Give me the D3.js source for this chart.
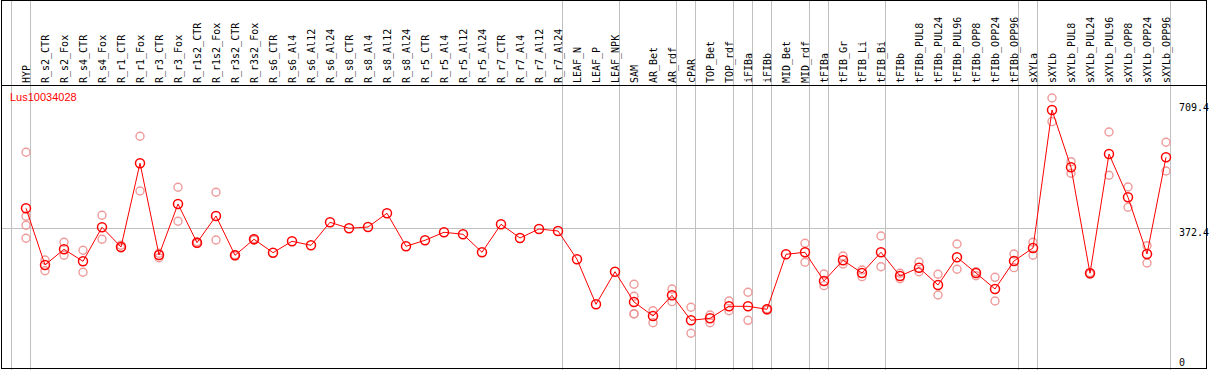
<!DOCTYPE html>
<meta charset="utf-8">
<style>
body { margin: 0; background: #fff; }
svg { display: block; background: #fff; }
.lbl { font-family: "DejaVu Sans Mono", monospace; font-size: 10px; fill: #000; }
.sep { stroke: #c0c0c0; stroke-width: 1; shape-rendering: crispEdges; }
.frame { fill: none; stroke: #000; stroke-width: 1; shape-rendering: crispEdges; }
.rep { fill: none; stroke: #ef9a9a; stroke-width: 1.4; }
.mean { fill: none; stroke: #ff0000; stroke-width: 1.5; }
.trend { fill: none; stroke: #ff0000; stroke-width: 1; }
.title { font-family: "Liberation Sans", Arial, sans-serif; font-size: 11px; fill: #ff0000; }
</style>
<body>
<svg id="chart"></svg>
<script src="https://cdnjs.cloudflare.com/ajax/libs/d3/7.8.5/d3.min.js"></script>
<script>

var geneId = "Lus10034028";

var samples = ["HYP","R_s2_CTR","R_s2_Fox","R_s4_CTR","R_s4_Fox","R_r1_CTR","R_r1_Fox","R_r3_CTR","R_r3_Fox",
  "R_r1s2_CTR","R_r1s2_Fox","R_r3s2_CTR","R_r3s2_Fox","R_s6_CTR","R_s6_Al4","R_s6_Al12","R_s6_Al24",
  "R_s8_CTR","R_s8_Al4","R_s8_Al12","R_s8_Al24","R_r5_CTR","R_r5_Al4","R_r5_Al12","R_r5_Al24",
  "R_r7_CTR","R_r7_Al4","R_r7_Al12","R_r7_Al24","LEAF_N","LEAF_P","LEAF_NPK","SAM","AR_Bet","AR_rdf",
  "cPAR","TOP_Bet","TOP_rdf","iFIBa","iFIBb","MID_Bet","MID_rdf","tFIBa","tFIB_Gr","tFIB_Li","tFIB_Bi",
  "tFIBb","tFIBb_PUL8","tFIBb_PUL24","tFIBb_PUL96","tFIBb_OPP8","tFIBb_OPP24","tFIBb_OPP96",
  "sXYLa","sXYLb","sXYLb_PUL8","sXYLb_PUL24","sXYLb_PUL96","sXYLb_OPP8","sXYLb_OPP24","sXYLb_OPP96"];

// mean expression per sample
var means = [428.7,266.8,311.6,277.3,374.5,318.2,557.3,295.3,441.0,
  330.5,406.7,294.5,340.2,301.9,334.5,323.0,388.7,
  371.6,375.3,414.4,320.2,337.3,360.2,354.5,303.1,
  383.0,343.9,369.6,363.9,283.1,154.5,247.6,161.1,121.1,180.2,
  108.8,114.5,148.8,148.8,140.2,297.3,303.1,221.1,280.2,243.9,303.1,
  235.4,259.1,209.7,288.8,243.9,198.2,278.2,
  315.3,709.4,545.8,243.1,583.8,460.1,298.2,574.4];

// individual replicates (empty = single measurement)
var reps = [[588.7,405.9,380.2,343.0],[281.1,250.5],[331.6,294.5],[308.8,245.9],[408.7,340.2],[323.0,315.3],[634.4,478.1],[300.2,287.6],[488.7,391.6],
  [328,333],[474.4,338.2],[293,296],[338,342],[],[],[],[],
  [],[],[],[],[],[],[],[],
  [],[],[],[],[],[],[],[211.7,177.4,127.7,126.8],[136.2,102.0],[198.2,162.0],
  [146.0,71.7],[124.0,102.0],[164.0,136.2],[188.8,108.8],[141.9,138.2],[],[328.8,274.5],[241.1,207.7],[292.5,269.6],[252.5,233.4],[349.6,261.9],
  [243.1,227.6],[275.3,247.6],[240.2,181.1],[326.8,254.5],[247.6,236.2],[231.6,164.0],[298.2,259.1],
  [331.6,294.5],[743.8,676.1],[561.8,528.7],[241,245],[646.7,523.0],[489.6,431.6],[321.9,272.5],[617.3,535.3]];

// number of samples in each tissue group
var groupSizes = [1,28,3,3,1,2,1,1,2,1,3,7,1,7];

var yTicks = [0, 372.4, 709.4];

var width = 1209, height = 370;
var headerBottom = 85, plotRight = 1170;

var svg = d3.select("#chart")
  .attr("width", width)
  .attr("height", height);

var x = d3.scalePoint()
  .domain(samples)
  .range([26, 1166]);

var y = d3.scaleLinear()
  .domain([0, 709.4])
  .range([358.4, 110]);

// group separators
var ends = [-1];
groupSizes.reduce(function(acc, n) { ends.push(acc + n - 1); return acc + n; }, 0);

svg.selectAll(".sep.v")
  .data(ends)
  .enter().append("line")
    .attr("class", "sep v")
    .attr("x1", function(d) { return Math.round(x(samples[0]) + x.step() * d + 4) + 0.5; })
    .attr("x2", function(d) { return Math.round(x(samples[0]) + x.step() * d + 4) + 0.5; })
    .attr("y1", 0)
    .attr("y2", height);

// mid grid line
var midY = Math.round(y(yTicks[1])) + 0.5;
svg.append("line")
  .attr("class", "sep")
  .attr("x1", 1).attr("x2", plotRight)
  .attr("y1", midY).attr("y2", midY);

// header labels
svg.selectAll(".lbl.s")
  .data(samples)
  .enter().append("text")
    .attr("class", "lbl s")
    .attr("transform", function(d) { return "translate(" + (x(d) + 4.3) + ",83) rotate(-90)"; })
    .text(function(d) { return d; });

// frame
svg.append("rect")
  .attr("class", "frame")
  .attr("x", 1.5).attr("y", 0.5)
  .attr("width", 1205).attr("height", 368);
svg.append("line")
  .attr("class", "frame")
  .attr("x1", 1).attr("x2", 1207)
  .attr("y1", headerBottom + 0.5).attr("y2", headerBottom + 0.5);

// right axis labels
svg.selectAll(".lbl.y")
  .data(yTicks)
  .enter().append("text")
    .attr("class", "lbl y")
    .attr("x", 1179)
    .attr("y", function(d, i) { return i === yTicks.length - 1 ? y(d) + 1 : y(d) + 8; })
    .text(function(d) { return d; });

svg.append("text")
  .attr("class", "title")
  .attr("x", 10).attr("y", 100.5)
  .text(geneId);

// replicates
var repPts = [];
reps.forEach(function(r, i) { r.forEach(function(v) { repPts.push({s: samples[i], v: v}); }); });

svg.selectAll(".rep")
  .data(repPts)
  .enter().append("circle")
    .attr("class", "rep")
    .attr("cx", function(d) { return x(d.s); })
    .attr("cy", function(d) { return y(d.v); })
    .attr("r", 4);

var line = d3.line()
  .x(function(d, i) { return x(samples[i]); })
  .y(function(d) { return y(d); });

svg.append("path")
  .datum(means)
  .attr("class", "trend")
  .attr("d", line);

svg.selectAll(".mean")
  .data(means)
  .enter().append("circle")
    .attr("class", "mean")
    .attr("cx", function(d, i) { return x(samples[i]); })
    .attr("cy", function(d) { return y(d); })
    .attr("r", 4.5);

</script>
